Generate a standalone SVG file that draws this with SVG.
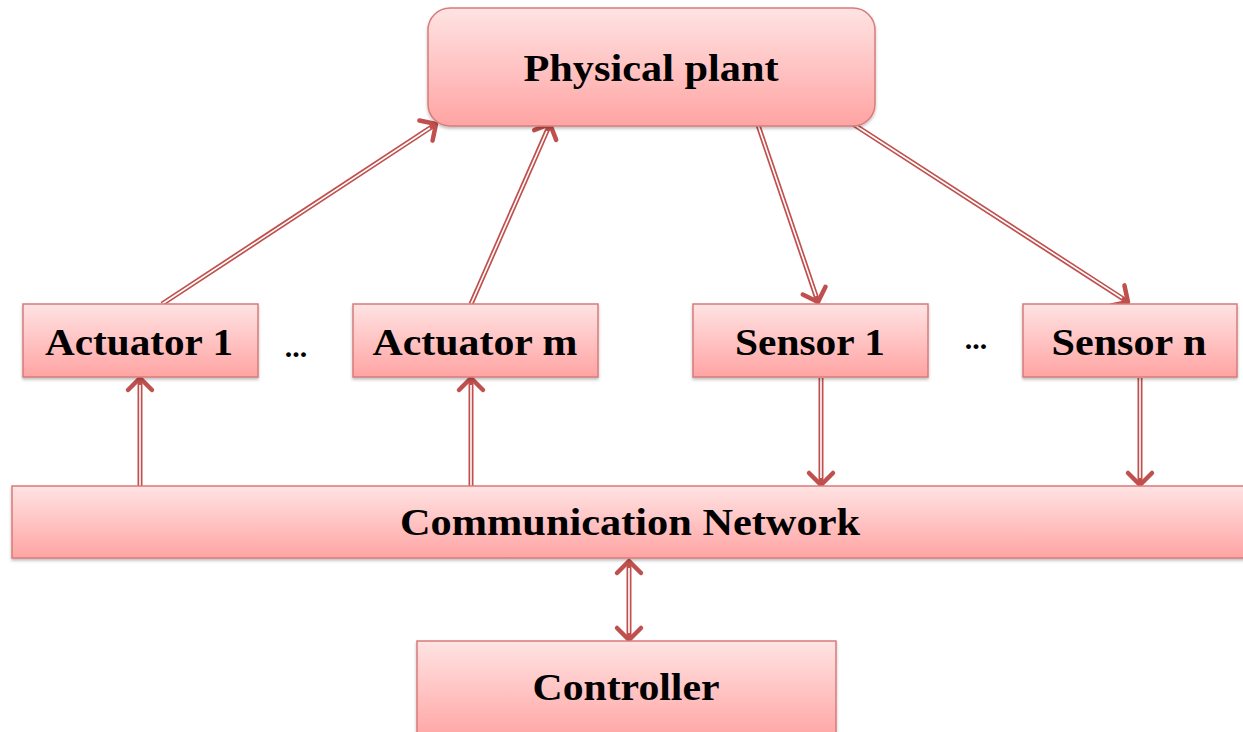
<svg xmlns="http://www.w3.org/2000/svg" width="1243" height="732" viewBox="0 0 1243 732">
  <defs>
    <linearGradient id="boxFill" x1="0" y1="0" x2="0" y2="1">
      <stop offset="0" stop-color="#ffe3e3"/>
      <stop offset="1" stop-color="#ffa4a3"/>
    </linearGradient>
    <filter id="shadow" x="-5%" y="-10%" width="110%" height="130%">
      <feDropShadow dx="0" dy="2" stdDeviation="1.5" flood-color="#000" flood-opacity="0.25"/>
    </filter>
    <marker id="head" viewBox="-16 -16 32 32" markerUnits="userSpaceOnUse" markerWidth="32" markerHeight="32" refX="0" refY="0" orient="auto-start-reverse">
      <path d="M-12,-12 L0,0 L-12,12" fill="none" stroke="#c0504d" stroke-width="4.5" stroke-linecap="round" stroke-linejoin="round"/>
    </marker>
  </defs>
  <style>
    .box { fill: url(#boxFill); stroke: #d97b7a; stroke-width: 1.5; filter: url(#shadow); }
    .label { font-family: "Liberation Serif", "Times New Roman", serif; font-weight: bold; font-size: 38px; fill: #000; text-anchor: middle; }
    .dots { font-family: "Liberation Serif", "Times New Roman", serif; font-weight: bold; font-size: 30px; fill: #000; text-anchor: middle; }
    .outer { fill: none; stroke: #c0504d; stroke-width: 5; marker-end: url(#head); }
    .inner { fill: none; stroke: #ffffff; stroke-width: 1.6; }
  </style>

  <!-- connectors: hollow double-line arrows -->
  <g id="connectors">
    <path class="outer" d="M162,304 L436,124"/>
    <path class="inner" d="M162,304 L430,128"/>

    <path class="outer" d="M471,304 L550,124"/>
    <path class="inner" d="M471,304 L547,131"/>

    <path class="outer" d="M757,122 L818,302"/>
    <path class="inner" d="M757,122 L816,296"/>

    <path class="outer" d="M853,124 L1128,302"/>
    <path class="inner" d="M853,124 L1122,298"/>

    <path class="outer" d="M140,486 L140,378"/>
    <path class="inner" d="M140,486 L140,385"/>

    <path class="outer" d="M471,486 L471,378"/>
    <path class="inner" d="M471,486 L471,385"/>

    <path class="outer" d="M821,378 L821,485"/>
    <path class="inner" d="M821,378 L821,478"/>

    <path class="outer" d="M1140,378 L1140,485"/>
    <path class="inner" d="M1140,378 L1140,478"/>

    <path class="outer" d="M629,561 L629,640" style="marker-start: url(#head)"/>
    <path class="inner" d="M629,568 L629,633"/>
  </g>

  <g id="physical-plant">
    <rect class="box" x="428" y="8" width="447" height="118" rx="22" ry="22"/>
    <text class="label" x="651" y="81" textLength="255" lengthAdjust="spacingAndGlyphs">Physical plant</text>
  </g>

  <g id="actuator-1">
    <rect class="box" x="23" y="304" width="235" height="73"/>
    <text class="label" x="139" y="355" textLength="188" lengthAdjust="spacingAndGlyphs">Actuator 1</text>
  </g>

  <g id="actuator-dots">
    <text class="dots" x="296" y="357">...</text>
  </g>

  <g id="actuator-m">
    <rect class="box" x="353" y="304" width="245" height="73"/>
    <text class="label" x="475" y="355" textLength="205" lengthAdjust="spacingAndGlyphs">Actuator m</text>
  </g>

  <g id="sensor-1">
    <rect class="box" x="693" y="304" width="235" height="73"/>
    <text class="label" x="810" y="355" textLength="150" lengthAdjust="spacingAndGlyphs">Sensor 1</text>
  </g>

  <g id="sensor-dots">
    <text class="dots" x="976" y="349">...</text>
  </g>

  <g id="sensor-n">
    <rect class="box" x="1023" y="304" width="214" height="73"/>
    <text class="label" x="1129" y="355" textLength="155" lengthAdjust="spacingAndGlyphs">Sensor n</text>
  </g>

  <g id="communication-network">
    <rect class="box" x="12" y="486" width="1240" height="72"/>
    <text class="label" x="630" y="535" textLength="460" lengthAdjust="spacingAndGlyphs">Communication Network</text>
  </g>

  <g id="controller">
    <rect class="box" x="417" y="641" width="419" height="100"/>
    <text class="label" x="626" y="700" textLength="187" lengthAdjust="spacingAndGlyphs">Controller</text>
  </g>
</svg>
